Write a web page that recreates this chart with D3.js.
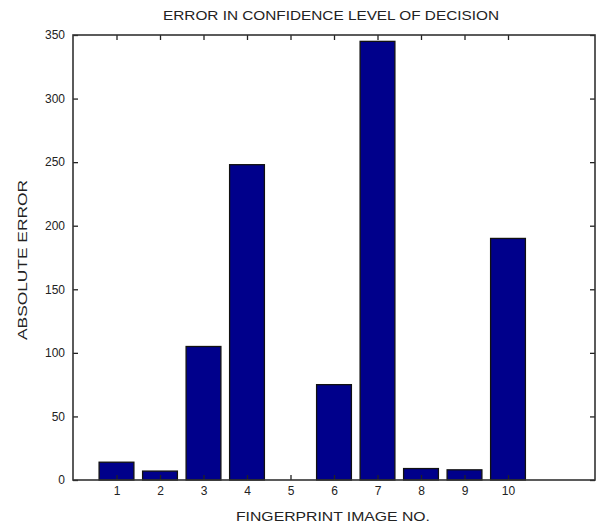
<!DOCTYPE html>
<html>
<head>
<meta charset="utf-8">
<script src="https://cdn.jsdelivr.net/npm/d3@7.9.0/dist/d3.min.js"></script>
<style>
  body { margin: 0; background: #fff; }
  svg text { font-family: Arial, "Liberation Sans", sans-serif; fill: #222; }
</style>
</head>
<body>
<div id="vis"></div>
<script>
const width = 601, height = 524;
const margin = { top: 35, right: 6, bottom: 44, left: 73 };

// fingerprint image numbers and absolute error
const images = [1, 2, 3, 4, 5, 6, 7, 8, 9, 10];
const errors = [14, 7, 105, 248, 0, 75, 345, 9, 8, 190];
const yTicks = [0, 50, 100, 150, 200, 250, 300, 350];

const svg = d3.select("#vis").append("svg")
    .attr("width", width)
    .attr("height", height);

const x = d3.scaleLinear().domain([0, 12]).range([margin.left, width - margin.right]);
const y = d3.scaleLinear().domain([0, 350]).range([height - margin.bottom, margin.top]);
const barW = x(0.8) - x(0);

// bars
svg.append("g")
  .selectAll("rect")
  .data(images.map((d, i) => ({ n: d, v: errors[i] })).filter(d => d.v > 0))
  .enter()
  .append("rect")
    .attr("x", d => x(d.n) - barW / 2)
    .attr("y", d => y(d.v))
    .attr("width", barW)
    .attr("height", d => y(0) - y(d.v))
    .attr("fill", "#00008b")
    .attr("stroke", "#111")
    .attr("stroke-width", 1.3);

// axes, ticks pointing inward
const fs = "12px";
const xBottom = svg.append("g")
    .attr("transform", `translate(0,${y(0)})`)
    .call(d3.axisBottom(x).tickValues(images).tickSize(-5).tickPadding(6));
const xTop = svg.append("g")
    .attr("transform", `translate(0,${y(350)})`)
    .call(d3.axisTop(x).tickValues(images).tickSize(-5).tickFormat(""));
const yLeft = svg.append("g")
    .attr("transform", `translate(${x(0)},0)`)
    .call(d3.axisLeft(y).tickValues(yTicks).tickSize(-5).tickPadding(8));
const yRight = svg.append("g")
    .attr("transform", `translate(${x(12)},0)`)
    .call(d3.axisRight(y).tickValues(yTicks).tickSize(-5).tickFormat(""));

[xBottom, xTop, yLeft, yRight].forEach(g => {
  g.select(".domain").remove();
  g.selectAll(".tick line").attr("stroke", "#222").attr("stroke-width", 1.3);
  g.selectAll("text").attr("font-size", fs).attr("fill", "#222")
    .style("font-family", "Arial, 'Liberation Sans', sans-serif");
});

// plot box
svg.append("rect")
    .attr("x", x(0))
    .attr("y", y(350))
    .attr("width", x(12) - x(0))
    .attr("height", y(0) - y(350))
    .attr("fill", "none")
    .attr("stroke", "#333")
    .attr("stroke-width", 1.6);

// labels
svg.append("text")
    .attr("x", 331).attr("y", 20)
    .attr("text-anchor", "middle")
    .attr("font-size", "13px")
    .attr("textLength", 336)
    .attr("lengthAdjust", "spacingAndGlyphs")
    .text("ERROR IN CONFIDENCE LEVEL OF DECISION");

svg.append("text")
    .attr("x", 333).attr("y", 521)
    .attr("text-anchor", "middle")
    .attr("font-size", "13px")
    .attr("textLength", 194)
    .attr("lengthAdjust", "spacingAndGlyphs")
    .text("FINGERPRINT IMAGE NO.");

svg.append("text")
    .attr("transform", "translate(27,260) rotate(-90)")
    .attr("text-anchor", "middle")
    .attr("font-size", "13px")
    .attr("textLength", 160)
    .attr("lengthAdjust", "spacingAndGlyphs")
    .text("ABSOLUTE ERROR");
</script>
</body>
</html>
